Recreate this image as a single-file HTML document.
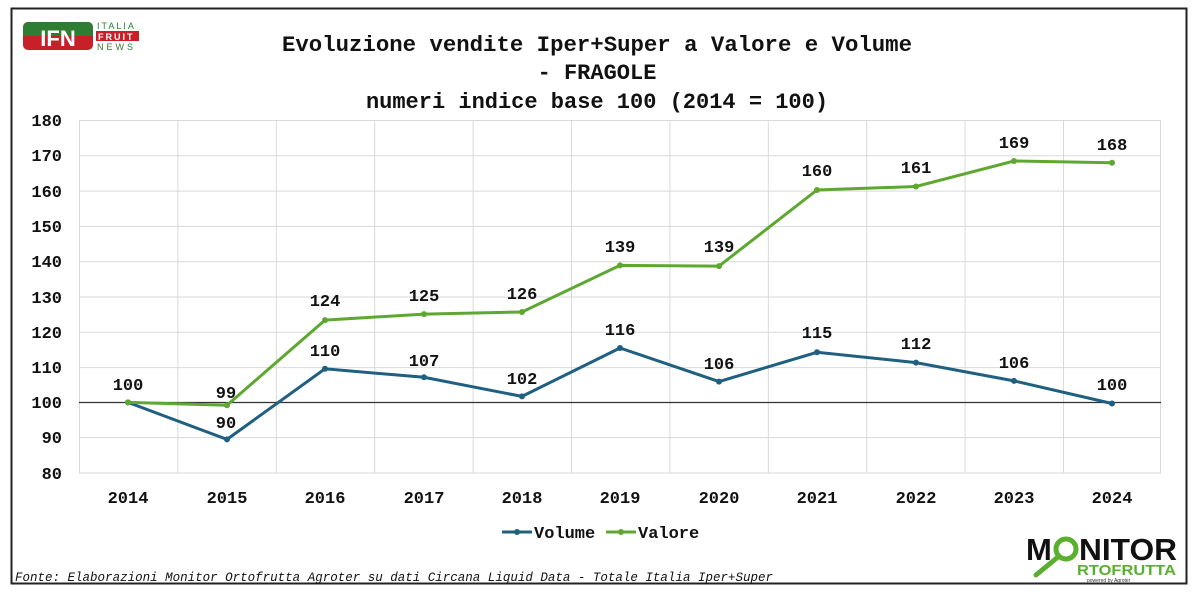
<!DOCTYPE html>
<html><head><meta charset="utf-8"><style>
body{margin:0;background:#fff;}
</style></head><body>
<svg width="1200" height="596" xmlns="http://www.w3.org/2000/svg" font-family="Liberation Mono, monospace">
<rect x="0" y="0" width="1200" height="596" fill="#fff"/>
<rect x="11.5" y="8.5" width="1175" height="575" fill="#fff" stroke="#222" stroke-width="2"/>
<!-- IFN logo -->
<rect x="23" y="22" width="70" height="28" rx="5" fill="#c8202a"/>
<rect x="23" y="22" width="70" height="14" rx="5" fill="#2f7d32"/>
<rect x="23" y="30" width="70" height="6" fill="#2f7d32"/>
<text x="58" y="46" font-family="Liberation Sans, sans-serif" font-weight="bold" font-size="22" fill="#fff" text-anchor="middle">IFN</text>
<text x="97" y="29" font-family="Liberation Sans, sans-serif" font-size="9" fill="#2f7d32" letter-spacing="2">ITALIA</text>
<rect x="96" y="31" width="43" height="10" fill="#c8202a"/>
<text x="98" y="40" font-family="Liberation Sans, sans-serif" font-size="9" fill="#fff" letter-spacing="2" font-weight="bold">FRUIT</text>
<text x="97" y="50" font-family="Liberation Sans, sans-serif" font-size="9" fill="#2f7d32" letter-spacing="3">NEWS</text>
<!-- title -->
<g font-weight="bold" font-size="22" text-anchor="middle" fill="#111">
<text x="597" y="51" textLength="630" lengthAdjust="spacingAndGlyphs">Evoluzione vendite Iper+Super a Valore e Volume</text>
<text x="597" y="79">- FRAGOLE</text>
<text x="597" y="108">numeri indice base 100 (2014 = 100)</text>
</g>
<!-- grid -->
<g stroke="#d9d9d9" stroke-width="1">
<line x1="79" y1="120.5" x2="1161" y2="120.5"/><line x1="79" y1="155.8" x2="1161" y2="155.8"/>
<line x1="79" y1="191.1" x2="1161" y2="191.1"/><line x1="79" y1="226.4" x2="1161" y2="226.4"/>
<line x1="79" y1="261.7" x2="1161" y2="261.7"/><line x1="79" y1="297" x2="1161" y2="297"/>
<line x1="79" y1="332.3" x2="1161" y2="332.3"/><line x1="79" y1="367.6" x2="1161" y2="367.6"/>
<line x1="79" y1="437.6" x2="1161" y2="437.6"/><line x1="79" y1="473" x2="1161" y2="473"/>
<line x1="79.5" y1="120" x2="79.5" y2="473"/><line x1="177.9" y1="120" x2="177.9" y2="473"/>
<line x1="276.3" y1="120" x2="276.3" y2="473"/><line x1="374.7" y1="120" x2="374.7" y2="473"/>
<line x1="473.1" y1="120" x2="473.1" y2="473"/><line x1="571.5" y1="120" x2="571.5" y2="473"/>
<line x1="669.9" y1="120" x2="669.9" y2="473"/><line x1="768.3" y1="120" x2="768.3" y2="473"/>
<line x1="866.7" y1="120" x2="866.7" y2="473"/><line x1="965.1" y1="120" x2="965.1" y2="473"/>
<line x1="1063.5" y1="120" x2="1063.5" y2="473"/><line x1="1160.5" y1="120" x2="1160.5" y2="473"/>
</g>
<line x1="79" y1="402.5" x2="1161" y2="402.5" stroke="#333" stroke-width="1.2"/>
<!-- y labels -->
<g font-weight="bold" font-size="17" text-anchor="end" fill="#111">
<text x="62" y="126">180</text><text x="62" y="161">170</text><text x="62" y="197">160</text>
<text x="62" y="232">150</text><text x="62" y="267">140</text><text x="62" y="303">130</text>
<text x="62" y="338">120</text><text x="62" y="373">110</text><text x="62" y="408">100</text>
<text x="62" y="443">90</text><text x="62" y="479">80</text>
</g>
<!-- x labels -->
<g font-weight="bold" font-size="17" text-anchor="middle" fill="#111">
<text x="128" y="503">2014</text><text x="227" y="503">2015</text><text x="325" y="503">2016</text>
<text x="424" y="503">2017</text><text x="522" y="503">2018</text><text x="620" y="503">2019</text>
<text x="719" y="503">2020</text><text x="817" y="503">2021</text><text x="916" y="503">2022</text>
<text x="1014" y="503">2023</text><text x="1112" y="503">2024</text>
</g>
<!-- series -->
<polyline fill="none" stroke="#1f5f7f" stroke-width="3" points="128,402.4 227,439.4 325,368.8 424,377.3 522,396.4 620,348 719,381.6 817,352.3 916,362.6 1014,380.9 1112,403.5"/>
<polyline fill="none" stroke="#5ea832" stroke-width="3" points="128,402.4 227,405.2 325,320.1 424,314.1 522,312 620,265.4 719,266.1 817,190 916,186.5 1014,161 1112,162.7"/>
<g fill="#1f5f7f">
<circle cx="128" cy="402.4" r="3"/><circle cx="227" cy="439.4" r="3"/><circle cx="325" cy="368.8" r="3"/><circle cx="424" cy="377.3" r="3"/><circle cx="522" cy="396.4" r="3"/><circle cx="620" cy="348" r="3"/><circle cx="719" cy="381.6" r="3"/><circle cx="817" cy="352.3" r="3"/><circle cx="916" cy="362.6" r="3"/><circle cx="1014" cy="380.9" r="3"/><circle cx="1112" cy="403.5" r="3"/>
</g>
<g fill="#5ea832">
<circle cx="128" cy="402.4" r="3"/><circle cx="227" cy="405.2" r="3"/><circle cx="325" cy="320.1" r="3"/><circle cx="424" cy="314.1" r="3"/><circle cx="522" cy="312" r="3"/><circle cx="620" cy="265.4" r="3"/><circle cx="719" cy="266.1" r="3"/><circle cx="817" cy="190" r="3"/><circle cx="916" cy="186.5" r="3"/><circle cx="1014" cy="161" r="3"/><circle cx="1112" cy="162.7" r="3"/>
</g>
<!-- data labels -->
<g font-weight="bold" font-size="17" text-anchor="middle" fill="#111">
<text x="128" y="390">100</text><text x="226" y="398">99</text><text x="226" y="428">90</text>
<text x="325" y="306">124</text><text x="325" y="356">110</text>
<text x="424" y="301">125</text><text x="424" y="366">107</text>
<text x="522" y="299">126</text><text x="522" y="384">102</text>
<text x="620" y="252">139</text><text x="620" y="335">116</text>
<text x="719" y="252">139</text><text x="719" y="369">106</text>
<text x="817" y="176">160</text><text x="817" y="338">115</text>
<text x="916" y="173">161</text><text x="916" y="349">112</text>
<text x="1014" y="148">169</text><text x="1014" y="368">106</text>
<text x="1112" y="150">168</text><text x="1112" y="390">100</text>
</g>
<!-- legend -->
<line x1="502" y1="532" x2="532" y2="532" stroke="#1f5f7f" stroke-width="3"/><circle cx="517" cy="532" r="3" fill="#1f5f7f"/>
<text x="534" y="538" font-weight="bold" font-size="17" fill="#111">Volume</text>
<line x1="606" y1="532" x2="636" y2="532" stroke="#5ea832" stroke-width="3"/><circle cx="621" cy="532" r="3" fill="#5ea832"/>
<text x="638" y="538" font-weight="bold" font-size="17" fill="#111">Valore</text>
<!-- footer -->
<text x="15" y="581" font-style="italic" font-size="12.5" fill="#111" textLength="758" lengthAdjust="spacingAndGlyphs">Fonte: Elaborazioni Monitor Ortofrutta Agroter su dati Circana Liquid Data - Totale Italia Iper+Super</text>
<!-- Monitor logo -->
<text x="1026" y="560" font-family="Liberation Sans, sans-serif" font-weight="bold" font-size="31" fill="#111">M</text>
<circle cx="1066" cy="549" r="10" fill="none" stroke="#5ab02e" stroke-width="5"/>
<line x1="1058" y1="557" x2="1036" y2="575" stroke="#5ab02e" stroke-width="5" stroke-linecap="round"/>
<text x="1079" y="560" font-family="Liberation Sans, sans-serif" font-weight="bold" font-size="31" fill="#111" textLength="98" lengthAdjust="spacingAndGlyphs">NITOR</text>
<text x="1077" y="575" font-family="Liberation Sans, sans-serif" font-weight="bold" font-size="15" fill="#5ab02e" textLength="99" lengthAdjust="spacingAndGlyphs">RTOFRUTTA</text>
<text x="1087" y="582" font-family="Liberation Sans, sans-serif" font-size="5" fill="#333">powered by Agroter</text>
</svg>
</body></html>
